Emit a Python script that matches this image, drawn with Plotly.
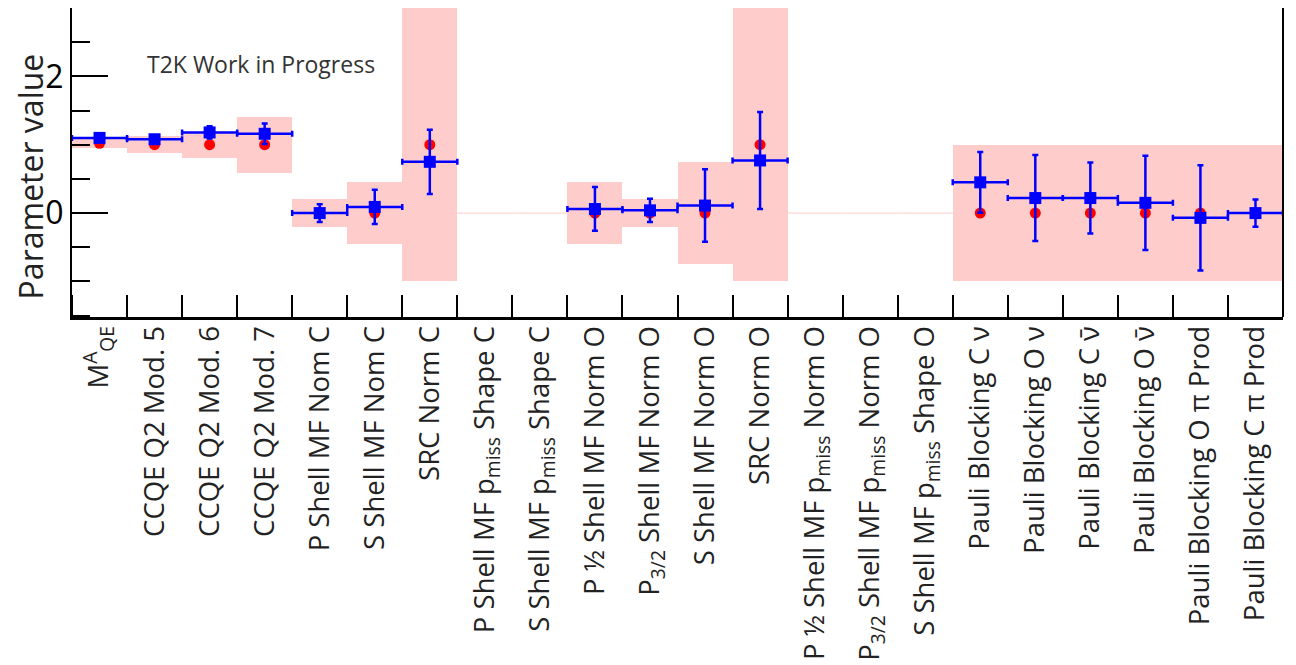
import plotly.graph_objects as go

labels = [
    "M<sup>A</sup><sub>QE</sub>", "CCQE Q2 Mod. 5", "CCQE Q2 Mod. 6", "CCQE Q2 Mod. 7",
    "P Shell MF Nom C", "S Shell MF Nom C", "SRC Norm C",
    "P Shell MF p<sub>miss</sub> Shape C", "S Shell MF p<sub>miss</sub> Shape C",
    "P ½ Shell MF Norm O", "P<sub>3/2</sub> Shell MF Norm O", "S Shell MF Norm O", "SRC Norm O",
    "P ½ Shell MF p<sub>miss</sub> Norm O", "P<sub>3/2</sub> Shell MF p<sub>miss</sub> Norm O",
    "S Shell MF p<sub>miss</sub> Shape O",
    "Pauli Blocking C ν", "Pauli Blocking O ν", "Pauli Blocking C ν̄", "Pauli Blocking O ν̄",
    "Pauli Blocking O π Prod", "Pauli Blocking C π Prod",
]
prior = [1.02, 1.0, 1.0, 1.0, 0.0, 0.0, 1.0, 0.0, 0.0, 0.0, 0.0, 0.0, 1.0,
         0.0, 0.0, 0.0, 0.0, 0.0, 0.0, 0.0, 0.0, 0.0]
prior_err = [0.065, 0.125, 0.19, 0.41, 0.2, 0.45, 2.0, 0.0, 0.0, 0.45, 0.2, 0.75, 2.0,
             0.0, 0.0, 0.0, 1.0, 1.0, 1.0, 1.0, 1.0, 1.0]
post = [1.10, 1.08, 1.18, 1.16, 0.0, 0.09, 0.75, None, None, 0.06, 0.04, 0.11, 0.77,
        None, None, None, 0.45, 0.22, 0.22, 0.15, -0.07, 0.0]
post_err = [0.02, 0.03, 0.09, 0.15, 0.13, 0.25, 0.47, None, None, 0.32, 0.17, 0.53, 0.71,
            None, None, None, 0.445, 0.63, 0.52, 0.69, 0.77, 0.2]

n = len(labels)
xs = list(range(n))
PINK = "rgb(255,204,204)"

fig = go.Figure()

# prior error bands
band_x = [x for x, e in zip(xs, prior_err) if e > 0]
band_base = [p - e for p, e in zip(prior, prior_err) if e > 0]
band_h = [2 * e for e in prior_err if e > 0]
fig.add_trace(go.Bar(x=band_x, y=band_h, base=band_base, width=1.0,
                     marker=dict(color=PINK, line=dict(width=0)), showlegend=False))

# zero-width prior bands drawn as thin lines
lx, ly = [], []
for x, p, e in zip(xs, prior, prior_err):
    if e == 0:
        lx += [x - 0.5, x + 0.5, None]
        ly += [p, p, None]
fig.add_trace(go.Scatter(x=lx, y=ly, mode="lines", line=dict(color=PINK, width=1),
                         showlegend=False))

# prior central values
fig.add_trace(go.Scatter(x=[x for x, e in zip(xs, prior_err) if e > 0],
                         y=[p for p, e in zip(prior, prior_err) if e > 0],
                         mode="markers", marker=dict(color="red", size=11, symbol="circle"),
                         showlegend=False))

# post-fit values
px = [x for x, v in zip(xs, post) if v is not None]
py = [v for v in post if v is not None]
pe = [e for e in post_err if e is not None]
fig.add_trace(go.Scatter(
    x=px, y=py, mode="markers",
    marker=dict(color="blue", size=12, symbol="square"),
    error_y=dict(type="data", array=pe, color="blue", thickness=2.5, width=3),
    error_x=dict(type="data", array=[0.5] * len(px), color="blue", thickness=2.5, width=3),
    showlegend=False))

fig.add_annotation(text="T2K Work in Progress", xref="paper", yref="paper",
                   x=0.156, y=0.82, xanchor="center", yanchor="middle", showarrow=False,
                   font=dict(family="Open Sans", size=23, color="#333333"))

# y-axis title
fig.add_annotation(text="Parameter value", xref="paper", yref="paper",
                   x=-0.0347, y=0.455, xanchor="center", yanchor="middle", showarrow=False,
                   textangle=-90, font=dict(family="Open Sans", size=32, color="#222222"))

# right border
fig.add_shape(type="line", xref="paper", yref="paper", x0=1, x1=1, y0=0, y1=1,
              line=dict(color="black", width=2))

# page body has an 8px margin: figure is sized/offset so the plot lands where the reference has it
fig.update_layout(
    width=1288, height=657,
    margin=dict(l=64, r=13, t=0, b=348, autoexpand=False),
    plot_bgcolor="white", paper_bgcolor="white",
    bargap=0,
    font=dict(family="Open Sans", color="#222222"),
    xaxis=dict(range=[-0.5, n - 0.5], tickmode="array", tickvals=xs, ticktext=labels,
               tickangle=-90, ticks="", ticklen=0, automargin=False, ticklabelstandoff=-5,
               tickfont=dict(size=27.5, color="#222222"),
               showline=True, linecolor="black", linewidth=3, showgrid=False, zeroline=False,
               minor=dict(tick0=0.5, dtick=1, ticks="inside", ticklen=22, tickwidth=2,
                          tickcolor="black", showgrid=False)),
    yaxis=dict(range=[-1.52, 3.0], tick0=0, dtick=2, ticks="inside", ticklen=36, tickwidth=2,
               tickcolor="black", tickfont=dict(size=32, color="black"), automargin=False,
               showline=True, linecolor="black", linewidth=2, showgrid=False, zeroline=False,
               minor=dict(dtick=0.5, ticks="inside", ticklen=18, tickwidth=2,
                          tickcolor="black", showgrid=False)),
)

fig.write_html("out.html")
